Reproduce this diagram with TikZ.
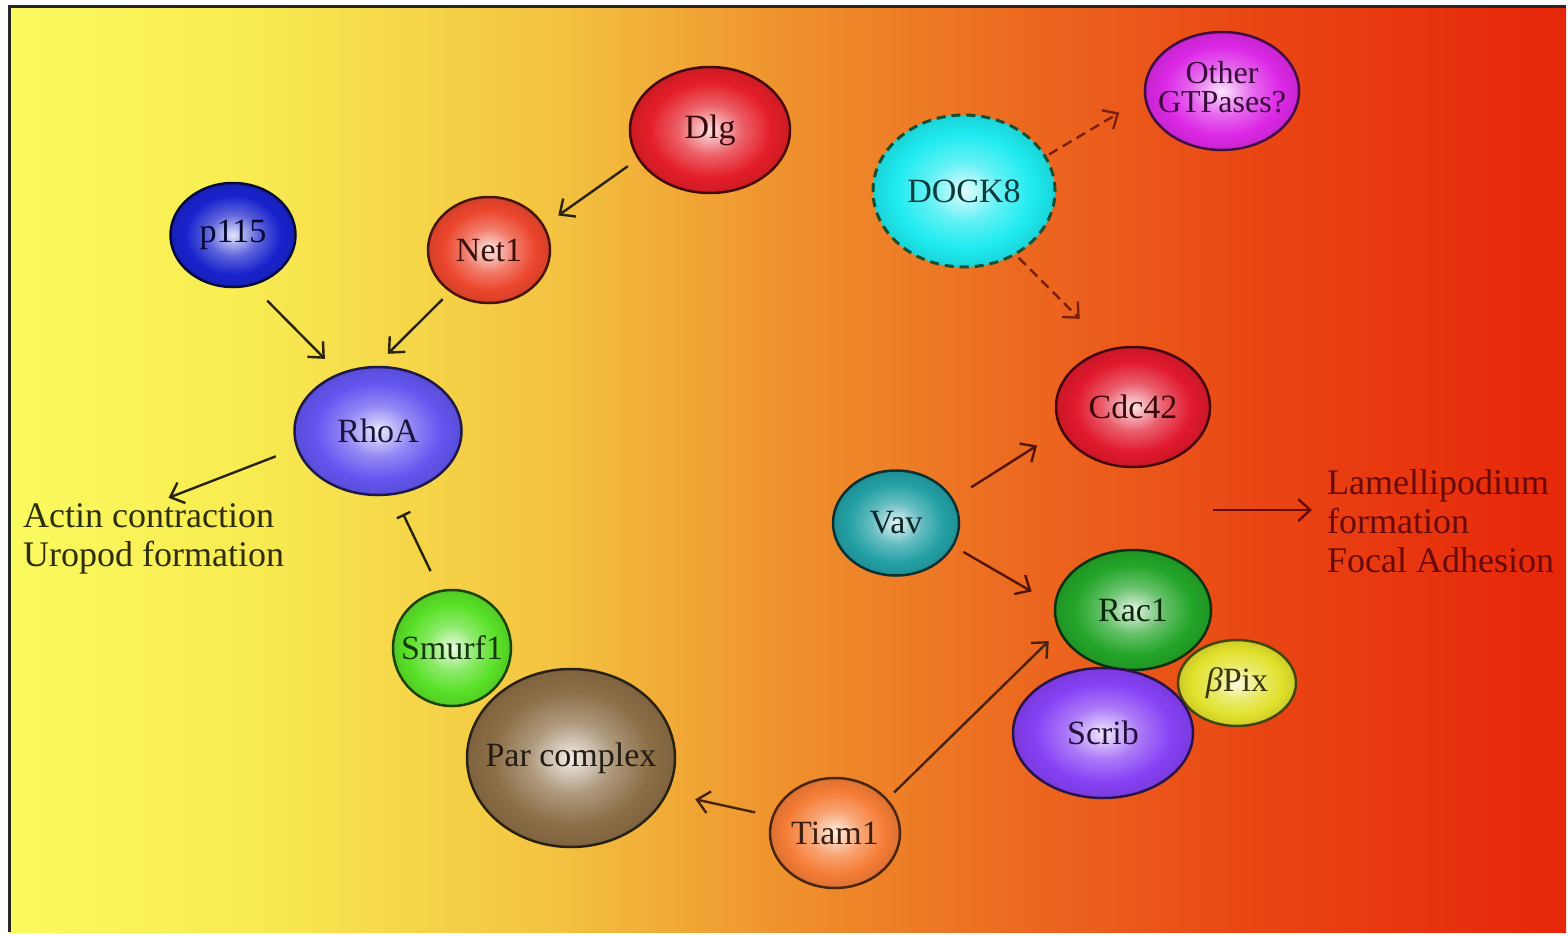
\documentclass[tikz,border=0pt]{standalone}
\usepackage{fontspec}
\setmainfont{Liberation Serif}
\usetikzlibrary{shapes.geometric,arrows.meta}

\definecolor{dlgred}{RGB}{228,30,40}
\definecolor{netred}{RGB}{236,70,45}
\definecolor{p115blue}{RGB}{25,35,205}
\definecolor{rhoaviolet}{RGB}{100,85,240}
\definecolor{smurfgreen}{RGB}{90,225,40}
\definecolor{parbrown}{RGB}{140,110,70}
\definecolor{tiamorange}{RGB}{245,125,55}
\definecolor{dockcyan}{RGB}{30,235,240}
\definecolor{dockrim}{RGB}{25,80,50}
\definecolor{othermag}{RGB}{220,40,230}
\definecolor{cdcred}{RGB}{225,25,45}
\definecolor{vavteal}{RGB}{35,160,165}
\definecolor{racgreen}{RGB}{35,165,40}
\definecolor{pixyellow}{RGB}{225,225,45}
\definecolor{scribviolet}{RGB}{135,65,245}
\definecolor{leftink}{RGB}{40,35,15}
\definecolor{tiamink}{RGB}{70,35,10}
\definecolor{rightink}{RGB}{85,20,10}
\definecolor{dashink}{RGB}{125,30,10}
\definecolor{lamink}{RGB}{105,10,10}
\definecolor{actinink}{RGB}{45,45,10}
\definecolor{bg0}{RGB}{250,250,95}
\definecolor{bg1}{RGB}{248,236,82}
\definecolor{bg2}{RGB}{243,195,65}
\definecolor{bg3}{RGB}{239,145,45}
\definecolor{bg4}{RGB}{236,105,32}
\definecolor{bg5}{RGB}{233,70,20}
\definecolor{bg6}{RGB}{230,38,10}

\colorlet{protcol}{red}
\pgfdeclareradialshading[protcol]{glow}{\pgfpoint{0bp}{0bp}}{color(0bp)=(protcol!12!white); color(10bp)=(protcol!70!white); color(19bp)=(protcol); color(25bp)=(protcol!90!black); color(50bp)=(protcol!90!black)}
\pgfdeclarehorizontalshading{bgfade}{100bp}{color(0bp)=(bg0); color(25bp)=(bg0); color(32.5bp)=(bg1); color(42.5bp)=(bg2); color(50bp)=(bg3); color(57.5bp)=(bg4); color(65bp)=(bg5); color(75bp)=(bg6); color(100bp)=(bg6)}

\newcommand{\slim}[1]{\makebox[0pt]{#1}}

\begin{document}
\begin{tikzpicture}[x=1pt, y=-1pt,
    protein/.style={ellipse, shade, shading=glow, /utils/exec={\colorlet{protcol}{#1}},
        draw=#1!30!black, line width=2.5pt, text=#1!25!black, inner sep=0pt,
        font=\fontsize{34}{36}\selectfont},
    act/.style={-{Straight Barb[length=12pt,width=22pt]}, line width=2.4pt, draw=#1},
    act/.default=leftink,
    maybe/.style={act=#1, dash pattern=on 10pt off 6pt},
    maybe/.default=dashink,
    block/.style={-{Bar[width=15pt]}, line width=2.4pt, draw=leftink},
    sidetext/.style={align=left, inner sep=0pt, font=\fontsize{36}{39}\selectfont}]

    \useasboundingbox (0,0) rectangle (1568,935);
    \shade[shading=bgfade] (9,6) rectangle (1566,932);
    \draw[line width=3pt, black!85] (9,932) -- (9,6) -- (1566,6);

    \node[protein=dlgred, minimum width=160pt, minimum height=126pt] (dlg) at (710,130) {\slim{Dlg}};
    \node[protein=netred, minimum width=122pt, minimum height=106pt] (net1) at (489,250) {\slim{Net1}};
    \node[protein=p115blue, minimum width=125pt, minimum height=104pt] (p115) at (233,235) {\slim{p115}};
    \node[protein=rhoaviolet, minimum width=167pt, minimum height=128pt] (rhoa) at (378,431) {\slim{RhoA}};
    \node[protein=smurfgreen, minimum width=118pt, minimum height=116pt] (smurf1) at (452,648) {\slim{Smurf1}};
    \node[protein=parbrown, minimum width=208pt, minimum height=178pt] (par) at (571,758) {\slim{Par complex}};
    \node[protein=tiamorange, minimum width=130pt, minimum height=110pt] (tiam1) at (835,833) {\slim{Tiam1}};
    \node[protein=dockcyan, draw=dockrim, dash pattern=on 9pt off 6pt, line width=3pt,
        minimum width=182pt, minimum height=152pt] (dock8) at (964,191) {\slim{DOCK8}};
    \node[protein=othermag, minimum width=154pt, minimum height=118pt, font=\fontsize{32}{27}\selectfont]
        (other) at (1222,91) {\slim{\begin{tabular}{@{}c@{}}Other\\GTPases?\end{tabular}}};
    \node[protein=cdcred, minimum width=154pt, minimum height=120pt] (cdc42) at (1133,407) {\slim{Cdc42}};
    \node[protein=vavteal, minimum width=126pt, minimum height=105pt] (vav) at (896,523) {\slim{Vav}};
    \node[protein=racgreen, minimum width=156pt, minimum height=120pt] (rac1) at (1133,610) {\slim{Rac1}};
    \node[protein=pixyellow, minimum width=118pt, minimum height=86pt] (bpix) at (1237,683) {\slim{\textit{β}Pix}};
    \node[protein=scribviolet, minimum width=180pt, minimum height=130pt] (scrib) at (1103,733) {\slim{Scrib}};

    \node[sidetext, text=actinink, anchor=west] (actin) at (23,539) {Actin contraction\\Uropod formation};
    \node[sidetext, text=lamink, anchor=west] (lam) at (1327,521) {Lamellipodium\\formation\\Focal Adhesion};
    \coordinate (lamfrom) at (1213,510);

    \draw[act, shorten <=12pt, shorten >=17pt] (dlg.-158.7) -- (net1.24.8);
    \draw[act, shorten <=10pt, shorten >=17pt] (net1.-133.6) -- (rhoa.92.7);
    \draw[act, shorten <=21pt, shorten >=20pt] (p115.-69) -- (rhoa.124.6);
    \draw[act, shorten <=22pt, shorten >=16pt] (rhoa.-168) -- (actin.north);
    \draw[block, shorten <=21pt, shorten >=21pt] (smurf1.102.7) -- (rhoa.-76.6);
    \draw[act=tiamink, shorten <=17pt, shorten >=28pt] (tiam1.165.4) -- (par.-20);
    \draw[act=tiamink, shorten <=9pt, shorten >=14pt] (tiam1.33.2) -- (rac1.196.3);
    \draw[act=rightink, shorten <=21pt, shorten >=28pt] (vav.23.9) -- (cdc42.198.1);
    \draw[act=rightink, shorten <=11pt, shorten >=26pt] (vav.-22.6) -- (rac1.176.4);
    \draw[maybe, shorten <=3pt, shorten >=29pt] (dock8.23.3) -- (other.185.4);
    \draw[maybe, shorten <=4pt, shorten >=42pt] (dock8.-51) -- (cdc42.112.5);
    \draw[act=lamink, shorten >=15pt] (lamfrom) -- (lamfrom -| lam.west);
\end{tikzpicture}
\end{document}
